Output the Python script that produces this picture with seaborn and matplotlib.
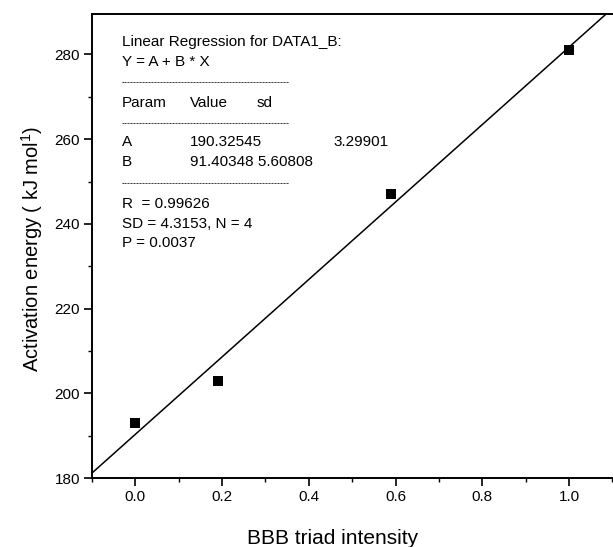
import matplotlib
matplotlib.use("Agg")
import matplotlib.pyplot as plt
from matplotlib.ticker import MultipleLocator
import numpy as np
import pandas as pd
import seaborn as sns

# Measured data: BBB triad intensity vs activation energy
bbb_intensity = [0.0, 0.19, 0.59, 1.0]
activation_energy = [193, 203, 247, 281]

# Linear fit results (Y = A + B * X)
fit_A = 190.32545
fit_A_sd = 3.29901
fit_B = 91.40348
fit_B_sd = 5.60808
fit_R = 0.99626
fit_SD = 4.3153
fit_N = 4
fit_P = 0.0037

x_limits = (-0.1, 1.1)
y_limits = (180, 289.5)

sns.set_theme(style="ticks")
plt.rcParams["font.family"] = ["Liberation Sans", "DejaVu Sans"]
plt.rcParams["mathtext.fontset"] = "custom"
plt.rcParams["mathtext.rm"] = "Liberation Sans"

fig = plt.figure(figsize=(6.13, 5.47), dpi=100)
ax = fig.add_axes([0.150, 0.126, 0.849, 0.848])

points = pd.DataFrame({"x": bbb_intensity, "y": activation_energy})
fit_x = np.array(x_limits)
fit_line = pd.DataFrame({"x": fit_x, "y": fit_A + fit_B * fit_x})

sns.lineplot(data=fit_line, x="x", y="y", ax=ax, color="black", lw=1.1)
sns.scatterplot(data=points, x="x", y="y", ax=ax, marker="s", s=50,
                color="black", edgecolor="black", linewidth=0, zorder=3)

ax.set_xlim(*x_limits)
ax.set_ylim(*y_limits)
ax.xaxis.set_minor_locator(MultipleLocator(0.1))
ax.yaxis.set_minor_locator(MultipleLocator(10))
ax.set_xticks([0.0, 0.2, 0.4, 0.6, 0.8, 1.0])
ax.set_xticklabels(["0.0", "0.2", "0.4", "0.6", "0.8", "1.0"])
ax.set_yticks([180, 200, 220, 240, 260, 280])

ax.tick_params(axis="both", which="major", direction="out", length=5.5,
               width=1.2, labelsize=11, colors="black", pad=3)
ax.tick_params(axis="both", which="minor", direction="out", length=3,
               width=1.0, colors="black")
ax.tick_params(top=False, right=False, which="both")

for side in ["left", "bottom", "top"]:
    ax.spines[side].set_color("black")
    ax.spines[side].set_linewidth(1.4)
ax.spines["right"].set_visible(False)

ax.set_xlabel("BBB triad intensity", fontsize=15, color="black")
ax.set_ylabel("Activation energy ( kJ mol$^{1}$)", fontsize=14.5, color="black")
ax.xaxis.set_label_coords(0.463, -0.110)
ax.yaxis.set_label_coords(-0.090, 0.495)

# Regression report block
fs = 11
dash = "-" * 56
col0, col1, col2 = 0.057, 0.188, 0.316
rows = [
    (0.940, [(col0, "Linear Regression for DATA1_B:")]),
    (0.897, [(col0, "Y = A + B * X")]),
    (0.853, [(col0, dash)]),
    (0.808, [(col0, "Param"), (col1, "Value"), (col2, "sd")]),
    (0.765, [(col0, dash)]),
    (0.724, [(col0, "A"), (col1, f"{fit_A:.5f}"), (0.464, f"{fit_A_sd:.5f}")]),
    (0.681, [(col0, "B"), (col1, f"{fit_B:.5f} {fit_B_sd:.5f}")]),
    (0.634, [(col0, dash)]),
    (0.591, [(col0, f"R  = {fit_R:.5f}")]),
    (0.548, [(col0, f"SD = {fit_SD:.4f}, N = {fit_N}")]),
    (0.506, [(col0, f"P = {fit_P:.4f}")]),
]
for yy, items in rows:
    for xx, txt in items:
        size = 6.5 if txt.startswith("---") else fs
        ax.text(xx, yy, txt, transform=ax.transAxes, fontsize=size,
                color="black", ha="left", va="center")

fig.savefig("out.png", dpi=100, facecolor="white")
